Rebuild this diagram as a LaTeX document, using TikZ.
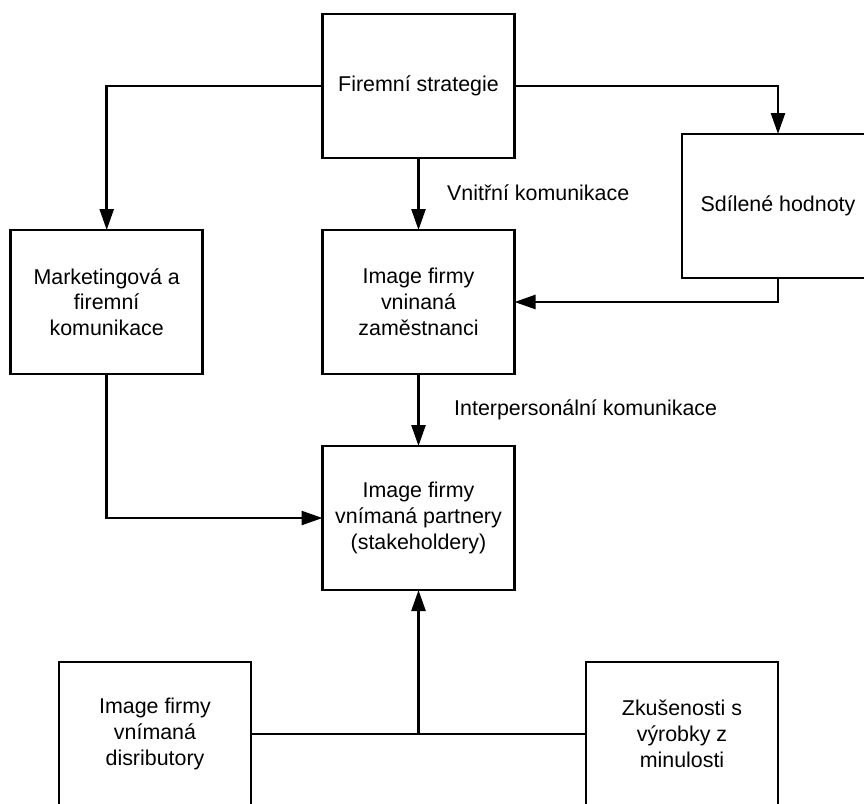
\documentclass[tikz,border=0pt]{standalone}
\usepackage{fontspec}
\setmainfont{Liberation Sans}
\usetikzlibrary{arrows.meta}
\begin{document}
\begin{tikzpicture}[x=1pt,y=-1pt,
  box/.style={draw, line width=2.6pt, minimum width=192pt, minimum height=144pt, outer sep=0pt, inner sep=0pt, align=center, font=\fontsize{21.4}{25.7}\selectfont},
  arr/.style={line width=2.5pt, -{Triangle[length=21pt,width=14pt]}},
  conn/.style={line width=2.5pt},
  lbl/.style={inner sep=0pt, anchor=west, font=\fontsize{21.4}{25.7}\selectfont}]
\useasboundingbox (0,0) rectangle (864,803);
\clip (0,0) rectangle (864,803);
\fill[white] (0,0) rectangle (864,803);
\node[box] (fs) at (418.5,86) {Firemní strategie};
\node[box] (sh) at (778,206) {Sdílené hodnoty};
\node[box] (mk) at (106.7,302) {Marketingová a\\firemní\\komunikace};
\node[box] (iz) at (418.5,302) {Image firmy\\vninaná\\zaměstnanci};
\node[box] (ip) at (418.5,518) {Image firmy\\vnímaná partnery\\(stakeholdery)};
\node[box] (id) at (155,734) {Image firmy\\vnímaná\\disributory};
\node[box] (zk) at (682,734) {Zkušenosti s\\výrobky z\\minulosti};
\node[lbl] (l1) at (447,193) {Vnitřní komunikace};
\node[lbl] (l2) at (454,410) {Interpersonální komunikace};
\draw[arr] (fs.west) -| (mk.north);
\draw[arr] (fs.east) -| (sh.north);
\draw[arr] (fs.south) -- (iz.north);
\draw[arr] (sh.south) |- (iz.east);
\draw[arr] (iz.south) -- (ip.north);
\draw[arr] (mk.south) |- (ip.west);
\draw[conn] (id.east) -- (zk.west);
\coordinate (j) at (id.east -| ip.south);
\draw[arr] (j) -- (ip.south);
\end{tikzpicture}
\end{document}
